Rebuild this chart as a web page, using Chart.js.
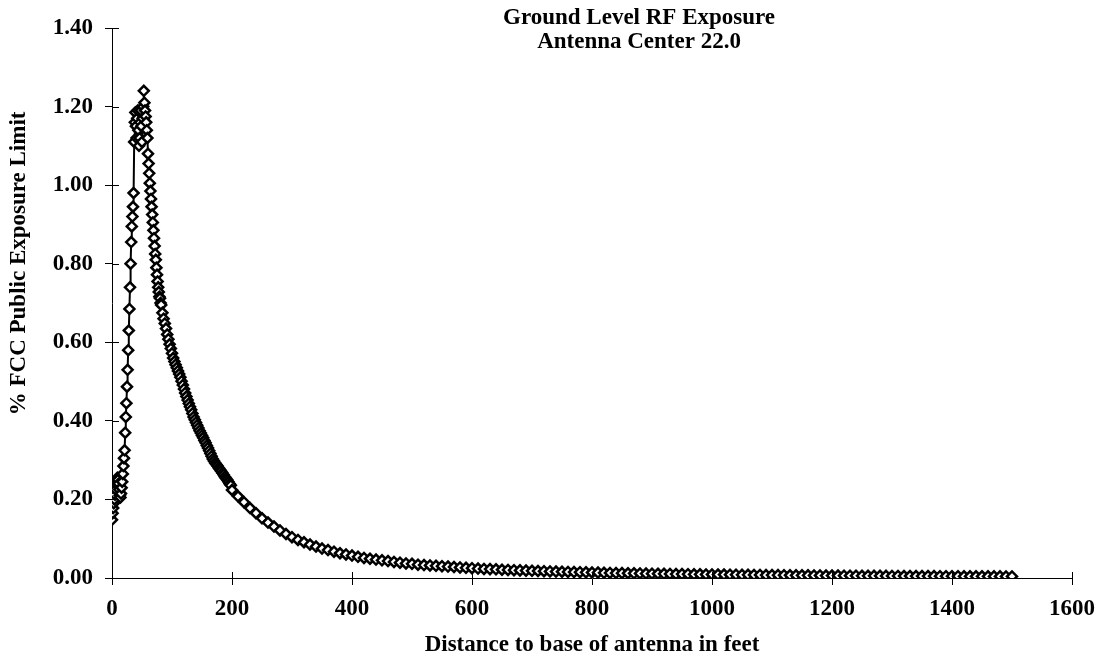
<!DOCTYPE html>
<html>
<head>
<meta charset="utf-8">
<title>Ground Level RF Exposure</title>
<script src="https://cdn.jsdelivr.net/npm/chart.js@4.4.1/dist/chart.umd.min.js"></script>
<style>
    body { margin: 0; background: #fff; }
    canvas { display: block; }
</style>
</head>
<body>
<canvas id="rfChart" width="1105" height="662"></canvas>
<script>
// Near field, 1 ft steps (0 - 81)
const nearDistance = [0, 1, 2, 3, 4, 5, 6, 7, 8, 9, 10, 11, 12, 13, 14, 15, 16, 17, 18, 19, 20,
    21, 22, 23, 24, 25, 26, 27, 28, 29, 30, 31, 32, 33, 34, 35, 36, 37, 38, 39, 40,
    41, 42, 43, 44, 45, 46, 47, 48, 49, 50, 51, 52, 53, 54, 55, 56, 57, 58, 59, 60,
    61, 62, 63, 64, 65, 66, 67, 68, 69, 70, 71, 72, 73, 74, 75, 76, 77, 78, 79, 80, 81];
const nearExposure = [0.148, 0.165, 0.178, 0.19, 0.2, 0.212, 0.225, 0.24, 0.25, 0.255, 0.25,
    0.24, 0.225, 0.21, 0.205, 0.215, 0.23, 0.245, 0.265, 0.285, 0.305,
    0.325, 0.37, 0.41, 0.445, 0.487, 0.53, 0.58, 0.63, 0.685, 0.74,
    0.8, 0.855, 0.895, 0.92, 0.945, 0.98, 1.11, 1.16, 1.185, 1.15,
    1.12, 1.17, 1.19, 1.14, 1.1, 1.12, 1.16, 1.19, 1.15, 1.11,
    1.17, 1.2, 1.24, 1.21, 1.19, 1.175, 1.16, 1.14, 1.12, 1.08,
    1.055, 1.03, 1.005, 0.985, 0.965, 0.945, 0.925, 0.905, 0.885, 0.865,
    0.845, 0.825, 0.81, 0.79, 0.772, 0.755, 0.74, 0.728, 0.716, 0.712, 0.7];

// Middle range, 2 ft steps (82 - 198)
const midDistance = [82, 84, 86, 88, 90, 92, 94, 96, 98, 100, 102, 104, 106, 108, 110,
    112, 114, 116, 118, 120, 122, 124, 126, 128, 130, 132, 134, 136, 138, 140,
    142, 144, 146, 148, 150, 152, 154, 156, 158, 160, 162, 164, 166, 168, 170,
    172, 174, 176, 178, 180, 182, 184, 186, 188, 190, 192, 194, 196, 198];
const midExposure = [0.695, 0.675, 0.66, 0.648, 0.635, 0.62, 0.608, 0.595, 0.584, 0.572,
    0.56, 0.551, 0.543, 0.535, 0.527, 0.519, 0.511, 0.501, 0.491, 0.481,
    0.471, 0.462, 0.453, 0.444, 0.436, 0.428, 0.419, 0.41, 0.403, 0.396,
    0.389, 0.382, 0.375, 0.369, 0.363, 0.357, 0.35, 0.344, 0.337, 0.331,
    0.324, 0.317, 0.31, 0.303, 0.298, 0.293, 0.289, 0.285, 0.28, 0.276,
    0.272, 0.267, 0.263, 0.258, 0.254, 0.25, 0.245, 0.24, 0.236];

// Far field, 10 ft steps (200 - 1500)
const farDistance = [200, 210, 220, 230, 240, 250, 260, 270, 280, 290, 300, 310, 320, 330, 340,
    350, 360, 370, 380, 390, 400, 410, 420, 430, 440, 450, 460, 470, 480, 490,
    500, 510, 520, 530, 540, 550, 560, 570, 580, 590, 600, 610, 620, 630, 640,
    650, 660, 670, 680, 690, 700, 710, 720, 730, 740, 750, 760, 770, 780, 790,
    800, 810, 820, 830, 840, 850, 860, 870, 880, 890, 900, 910, 920, 930, 940,
    950, 960, 970, 980, 990, 1000, 1010, 1020, 1030, 1040, 1050, 1060, 1070, 1080, 1090,
    1100, 1110, 1120, 1130, 1140, 1150, 1160, 1170, 1180, 1190, 1200, 1210, 1220, 1230, 1240,
    1250, 1260, 1270, 1280, 1290, 1300, 1310, 1320, 1330, 1340, 1350, 1360, 1370, 1380, 1390,
    1400, 1410, 1420, 1430, 1440, 1450, 1460, 1470, 1480, 1490, 1500];
const farExposure = [0.224, 0.208, 0.193, 0.178, 0.165, 0.152, 0.141, 0.131, 0.121, 0.112,
    0.104, 0.097, 0.091, 0.085, 0.08, 0.075, 0.071, 0.067, 0.063, 0.06,
    0.057, 0.054, 0.051, 0.049, 0.047, 0.045, 0.043, 0.041, 0.039, 0.037,
    0.036, 0.034, 0.033, 0.032, 0.031, 0.03, 0.029, 0.028, 0.027, 0.026,
    0.025, 0.024, 0.023, 0.0226, 0.022, 0.021, 0.0206, 0.02, 0.0194, 0.0188,
    0.0183, 0.0178, 0.0173, 0.0168, 0.0164, 0.0159, 0.0155, 0.0151, 0.0147, 0.0144,
    0.014, 0.0137, 0.0133, 0.013, 0.0127, 0.0124, 0.0121, 0.0118, 0.0116, 0.0113,
    0.011, 0.0108, 0.0106, 0.0104, 0.0101, 0.0099, 0.0097, 0.0095, 0.0093, 0.0091,
    0.009, 0.0088, 0.0086, 0.0084, 0.0083, 0.0081, 0.008, 0.0078, 0.0077, 0.0075,
    0.0074, 0.0073, 0.0071, 0.007, 0.0069, 0.0068, 0.0067, 0.0065, 0.0064, 0.0063,
    0.0062, 0.0061, 0.006, 0.0059, 0.0058, 0.0057, 0.0056, 0.0056, 0.0055, 0.0054,
    0.0053, 0.0052, 0.0051, 0.0051, 0.005, 0.0049, 0.0048, 0.0048, 0.0047, 0.0046,
    0.0046, 0.0045, 0.0044, 0.0044, 0.0043, 0.0043, 0.0042, 0.0041, 0.0041, 0.004, 0.004];

const titleLines = ['Ground Level RF Exposure', 'Antenna Center 22.0'];
const xTitle = 'Distance to base of antenna in feet';
const yTitle = '% FCC Public Exposure Limit';

const serif = "'Liberation Serif', 'Times New Roman', serif";

document.addEventListener('DOMContentLoaded', () => {
    const distances = nearDistance.concat(midDistance, farDistance);
    const exposures = nearExposure.concat(midExposure, farExposure);
    const points = distances.map((d, i) => ({ x: d, y: exposures[i] }));

    // chart title sits inside the plot area, right of centre,
    // y title sits a bit above the middle of the axis
    const textPlugin = {
        id: 'chartTexts',
        afterDraw(chart) {
            const { ctx, chartArea } = chart;
            const cx = chartArea.left + (chartArea.right - chartArea.left) * 0.549;
            ctx.save();
            ctx.font = "bold 23px " + serif;
            ctx.fillStyle = '#000';
            ctx.textAlign = 'center';
            ctx.textBaseline = 'middle';
            ctx.fillText(titleLines[0], cx, 18);
            ctx.fillText(titleLines[1], cx, 42);

            ctx.translate(19, chartArea.top + (chartArea.bottom - chartArea.top) * 0.428);
            ctx.rotate(-Math.PI / 2);
            ctx.fillText(yTitle, 0, 0);
            ctx.restore();
        }
    };

    // tick marks that cross into the plot area
    const innerTicks = {
        id: 'innerTicks',
        afterDraw(chart) {
            const { ctx, chartArea, scales } = chart;
            ctx.save();
            ctx.strokeStyle = '#000';
            ctx.lineWidth = 1;
            ctx.beginPath();
            scales.y.ticks.forEach(t => {
                const y = Math.round(scales.y.getPixelForValue(t.value)) + 0.5;
                ctx.moveTo(chartArea.left, y);
                ctx.lineTo(chartArea.left + 7, y);
            });
            scales.x.ticks.forEach(t => {
                const x = Math.round(scales.x.getPixelForValue(t.value)) + 0.5;
                ctx.moveTo(x, chartArea.bottom);
                ctx.lineTo(x, chartArea.bottom - 6);
            });
            ctx.stroke();
            ctx.restore();
        }
    };

    const ctx = document.getElementById('rfChart').getContext('2d');

    new Chart(ctx, {
        type: 'scatter',
        data: {
            datasets: [{
                data: points,
                showLine: true,
                borderColor: '#000',
                borderWidth: 2,
                pointStyle: 'rectRot',
                pointRadius: 5,
                pointBorderWidth: 2.5,
                pointBorderColor: '#000',
                pointBackgroundColor: '#fff',
                tension: 0
            }]
        },
        options: {
            responsive: false,
            animation: false,
            layout: { padding: { left: 0, top: 28, right: 30, bottom: 0 } },
            plugins: {
                legend: { display: false },
                tooltip: { enabled: false }
            },
            scales: {
                x: {
                    type: 'linear',
                    min: 0,
                    max: 1600,
                    afterFit: scale => { scale.height = 84; },
                    ticks: {
                        stepSize: 200,
                        padding: 10,
                        color: '#000',
                        callback: v => String(v),
                        font: { family: serif, size: 23, weight: 'bold' }
                    },
                    grid: {
                        display: true,
                        drawOnChartArea: false,
                        drawTicks: true,
                        tickLength: 7,
                        color: '#000'
                    },
                    border: { color: '#000', width: 1 },
                    title: {
                        display: true,
                        text: xTitle,
                        color: '#000',
                        padding: { top: 0, bottom: 3 },
                        font: { family: serif, size: 23, weight: 'bold' }
                    }
                },
                y: {
                    min: 0,
                    max: 1.4,
                    afterFit: scale => { scale.width = 112; },
                    ticks: {
                        stepSize: 0.2,
                        padding: 12,
                        color: '#000',
                        callback: v => v.toFixed(2),
                        font: { family: serif, size: 23, weight: 'bold' }
                    },
                    grid: {
                        display: true,
                        drawOnChartArea: false,
                        drawTicks: true,
                        tickLength: 7,
                        color: '#000'
                    },
                    border: { color: '#000', width: 1 }
                }
            }
        },
        plugins: [textPlugin, innerTicks]
    });
});
</script>
</body>
</html>
